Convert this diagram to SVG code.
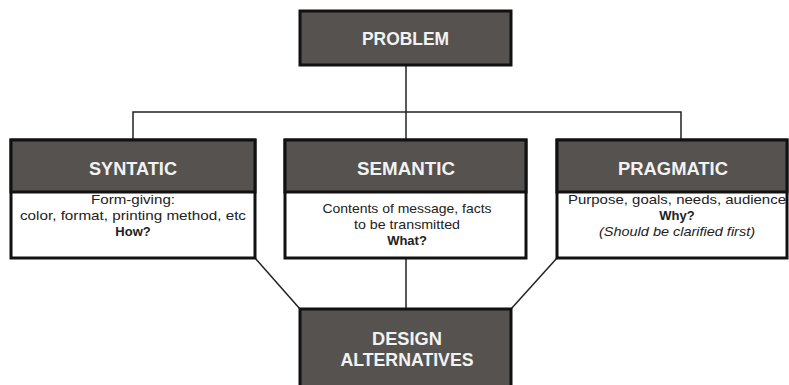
<svg xmlns="http://www.w3.org/2000/svg" width="789" height="385" viewBox="0 0 789 385">
<style>
.box{fill:#ffffff;stroke:#111;stroke-width:3}
.hdr{fill:#55524f;stroke:#111;stroke-width:3}
.ht{font-family:"Liberation Sans Narrow","Liberation Sans",Arial,sans-serif;font-weight:bold;font-size:19px;fill:#f2f2f2;text-anchor:middle}
.bt{font-family:"Liberation Sans Narrow","Liberation Sans",Arial,sans-serif;font-size:13px;fill:#222;text-anchor:middle}
.b{font-weight:bold}
.i{font-style:italic}
.con{stroke:#222;stroke-width:1.5;fill:none}
</style>
<rect width="789" height="385" fill="#ffffff"/>
<g id="connectors">
<line class="con" x1="406" y1="65" x2="406" y2="112"/>
<polyline class="con" points="133,140 133,112 681,112 681,140"/>
<line class="con" x1="406" y1="112" x2="406" y2="140"/>
<line class="con" x1="406" y1="258" x2="406" y2="309"/>
<line class="con" x1="255" y1="258" x2="300" y2="309"/>
<line class="con" x1="557" y1="258" x2="511" y2="309"/>
</g>
<g id="problem">
<rect class="hdr" x="300" y="11" width="211" height="54"/>
<text class="ht" x="405.5" y="45" textLength="87" lengthAdjust="spacingAndGlyphs">PROBLEM</text>
</g>
<g id="syntatic">
<rect class="box" x="11" y="140" width="244" height="118"/>
<rect class="hdr" x="11" y="140" width="244" height="52"/>
<text class="ht" x="133" y="175" textLength="88" lengthAdjust="spacingAndGlyphs">SYNTATIC</text>
<text class="bt" x="133" y="204" textLength="84" lengthAdjust="spacingAndGlyphs">Form-giving:</text>
<text class="bt" x="133" y="220" textLength="226" lengthAdjust="spacingAndGlyphs">color, format, printing method, etc</text>
<text class="bt b" x="133" y="236">How?</text>
</g>
<g id="semantic">
<rect class="box" x="285" y="140" width="241" height="118"/>
<rect class="hdr" x="285" y="140" width="241" height="52"/>
<text class="ht" x="406" y="175" textLength="98" lengthAdjust="spacingAndGlyphs">SEMANTIC</text>
<text class="bt" x="407" y="213" textLength="169" lengthAdjust="spacingAndGlyphs">Contents of message, facts</text>
<text class="bt" x="407" y="229" textLength="106" lengthAdjust="spacingAndGlyphs">to be transmitted</text>
<text class="bt b" x="407" y="245">What?</text>
</g>
<g id="pragmatic">
<rect class="box" x="557" y="140" width="230" height="118"/>
<rect class="hdr" x="557" y="140" width="230" height="52"/>
<text class="ht" x="673" y="175" textLength="110" lengthAdjust="spacingAndGlyphs">PRAGMATIC</text>
<text class="bt" x="677" y="204" textLength="218" lengthAdjust="spacingAndGlyphs">Purpose, goals, needs, audience</text>
<text class="bt b" x="677" y="220">Why?</text>
<text class="bt i" x="677" y="236" textLength="156" lengthAdjust="spacingAndGlyphs">(Should be clarified first)</text>
</g>
<g id="design">
<rect class="hdr" x="300" y="309" width="211" height="82"/>
<text class="ht" x="407" y="345" textLength="70" lengthAdjust="spacingAndGlyphs">DESIGN</text>
<text class="ht" x="407" y="366" textLength="133" lengthAdjust="spacingAndGlyphs">ALTERNATIVES</text>
</g>
</svg>
